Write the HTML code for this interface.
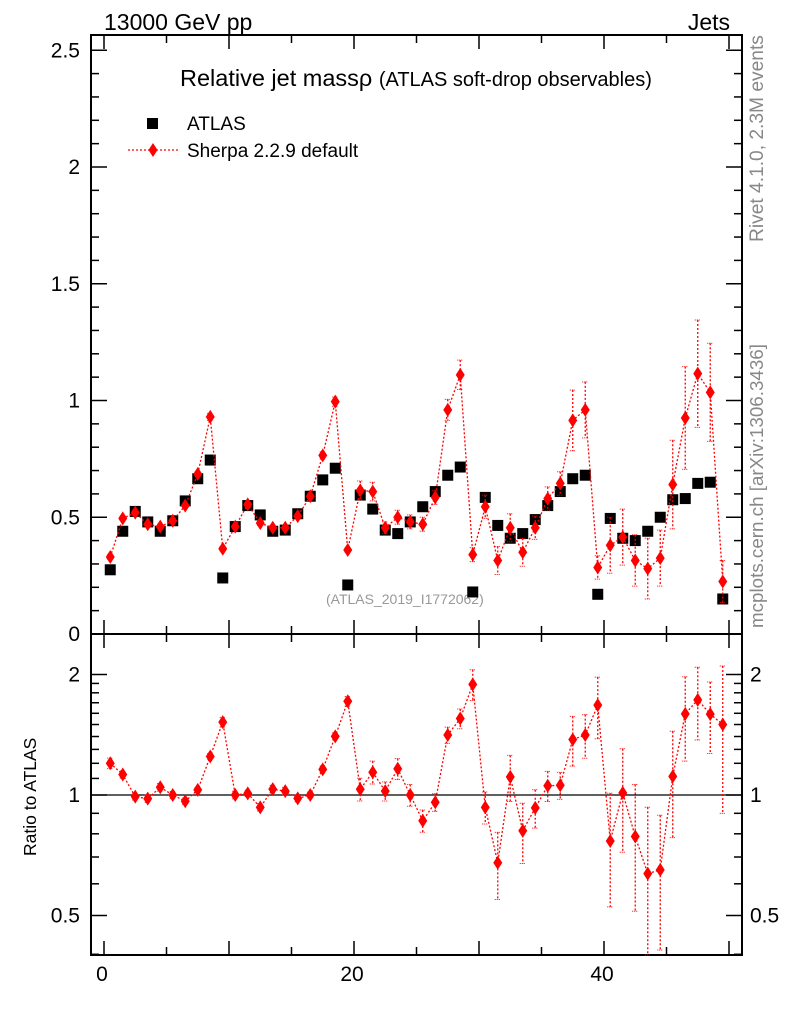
<!DOCTYPE html>
<html><head><meta charset="utf-8"><style>
html,body{margin:0;padding:0;background:#fff}
svg{display:block;font-family:"Liberation Sans",sans-serif}
</style></head><body>
<svg id="c" width="786" height="1024" viewBox="0 0 786 1024">
<text x="104" y="30" font-size="23">13000 GeV pp</text>
<text x="730" y="30" font-size="23" text-anchor="end">Jets</text>
<text x="180" y="86" font-size="23.5">Relative jet massρ <tspan font-size="20">(ATLAS soft-drop observables)</tspan></text>
<text x="326" y="604" font-size="14" fill="#999">(ATLAS_2019_I1772062)</text>
<text transform="translate(763,242) rotate(-90)" font-size="19.2" fill="#888">Rivet 4.1.0,  2.3M events</text>
<text transform="translate(763,628) rotate(-90)" font-size="18.8" fill="#888">mcplots.cern.ch [arXiv:1306.3436]</text>
<text transform="translate(36,856) rotate(-90)" font-size="17.5">Ratio to ATLAS</text>
<g>
<rect x="147" y="118" width="11" height="11" fill="#000"/>
<text x="187" y="130" font-size="19">ATLAS</text>
<line x1="128" y1="150" x2="178" y2="150" stroke="red" stroke-dasharray="2,2" stroke-width="1.3"/>
<polygon points="153,143 157.5,150 153,157 148.5,150" fill="red"/>
<text x="187" y="157" font-size="19">Sherpa 2.2.9 default</text>
</g>
<g id="main"></g>
<g id="ratio"></g>
</svg>
<script>
const atlasVals=[0.275,0.44,0.525,0.48,0.44,0.485,0.57,0.665,0.745,0.24,
0.46,0.55,0.51,0.44,0.445,0.515,0.59,0.66,0.71,0.21,
0.595,0.535,0.445,0.43,0.48,0.545,0.61,0.68,0.715,0.18,
0.585,0.465,0.41,0.43,0.49,0.55,0.61,0.665,0.68,0.17,
0.495,0.41,0.40,0.44,0.50,0.575,0.58,0.645,0.65,0.15];
const sherpaVals=[0.33,0.495,0.52,0.47,0.46,0.485,0.55,0.685,0.93,0.365,
0.46,0.555,0.475,0.455,0.455,0.505,0.59,0.765,0.995,0.36,
0.615,0.61,0.455,0.5,0.48,0.47,0.585,0.96,1.11,0.34,
0.545,0.315,0.455,0.35,0.455,0.58,0.645,0.915,0.96,0.285,
0.38,0.415,0.315,0.28,0.325,0.64,0.925,1.115,1.035,0.225];
const sherpaErrs=[0.01,0.01,0.01,0.01,0.01,0.01,0.01,0.01,0.015,0.01,
0.01,0.01,0.01,0.01,0.01,0.01,0.01,0.015,0.02,0.01,
0.04,0.04,0.025,0.03,0.03,0.03,0.03,0.045,0.063,0.03,
0.05,0.06,0.06,0.06,0.05,0.05,0.05,0.13,0.12,0.05,
0.12,0.12,0.11,0.13,0.12,0.19,0.22,0.23,0.21,0.09];
const xTicks=[0,20,40];
const mainTicks=[0,0.5,1,1.5,2,2.5];
const ratioTicks=[0.5,1,2];

const NS="http://www.w3.org/2000/svg";
const L=91,R=742,T=35,MB=634,RB=955;
const X=v=>104+(v)*12.5;
const Y=v=>634-v*233.5;
const RY=v=>795-Math.log2(v)*120.5;
function el(tag,attrs,parent){const e=document.createElementNS(NS,tag);for(const k in attrs)e.setAttribute(k,attrs[k]);parent.appendChild(e);return e;}
const main=document.getElementById('main'),ratio=document.getElementById('ratio');

let f=el('rect',{x:L,y:T,width:R-L,height:MB-T,fill:'none',stroke:'#000','stroke-width':2},main);


f=el('rect',{x:L,y:MB,width:R-L,height:RB-MB,fill:'none',stroke:'#000','stroke-width':2},ratio);



for(let v=0;v<=50;v++){
  const maj=v%10===0, mid=v%5===0;
  if(!mid) continue;
  const len=maj?14:8;
  [[MB,-1],[MB,1],[RB,-1],[T,1]].forEach(([y0,d])=>{
    const t=el('line',{x1:X(v),x2:X(v),y1:y0,y2:y0+d*len,stroke:'#000','stroke-width':1.5},main);
    
    
  });
}
xTicks.forEach(v=>{
  const t=el('text',{x:X(v)-2,y:981,'font-size':21,'text-anchor':'middle'},ratio);t.textContent=v;
  
  
});
for(let i=0;i<=25;i++){const v=i/10;const maj=i%5===0;const len=maj?16:8;
  [[L,1],[R,-1]].forEach(([x0,d])=>{
    const t=el('line',{x1:x0,x2:x0+d*len,y1:Y(v),y2:Y(v),stroke:'#000','stroke-width':1.5},main);
    
    
  });
}
mainTicks.forEach(v=>{
  const t=el('text',{x:80,y:Y(v)+7,'font-size':21,'text-anchor':'end'},main);t.textContent=v;
  
  
});
[0.4,0.5,0.6,0.7,0.8,0.9,1,1.1,1.2,1.3,1.4,1.5,1.6,1.7,1.8,1.9,2].forEach(v=>{
  const maj=ratioTicks.includes(v);const len=maj?16:8;
  [[L,1],[R,-1]].forEach(([x0,d])=>{
    const t=el('line',{x1:x0,x2:x0+d*len,y1:RY(v),y2:RY(v),stroke:'#000','stroke-width':1.5},ratio);
    
    
  });
});
ratioTicks.forEach(v=>{
  let t=el('text',{x:80,y:RY(v)+7,'font-size':21,'text-anchor':'end'},ratio);t.textContent=v;
  
  
  t=el('text',{x:750,y:RY(v)+7,'font-size':21},ratio);t.textContent=v;
  
  
});
let ref=el('line',{x1:L,x2:R,y1:RY(1),y2:RY(1),stroke:'#000','stroke-width':1.2},ratio);



function series(g,vals,errs,yf,clipTop,clipBot,name){
  let pts=vals.map((v,i)=>X(i+0.5)+','+yf(v)).join(' ');
  const pl=el('polyline',{points:pts,fill:'none',stroke:'red','stroke-width':1.3,'stroke-dasharray':'2,2'},g);
  
  
  vals.forEach((v,i)=>{
    const x=X(i+0.5),y=yf(v);
    let y1=Math.max(clipTop,yf(v+errs[i])),y2=Math.min(clipBot,yf(Math.max(v-errs[i],0.01)));
    const e=el('line',{x1:x,x2:x,y1:y1,y2:y2,stroke:'red','stroke-width':1.3,'stroke-dasharray':'2,2'},g);
    
    
    [y1,y2].forEach(yy=>{const c=el('line',{x1:x-3,x2:x+3,y1:yy,y2:yy,stroke:'red','stroke-width':1,'stroke-dasharray':'1,1'},g);
      
      });
    const d=el('polygon',{points:`${x},${y-7} ${x+4.5},${y} ${x},${y+7} ${x-4.5},${y}`,fill:'red'},g);
    
    
  });
}
atlasVals.forEach((v,i)=>{
  const r=el('rect',{x:X(i+0.5)-5.5,y:Y(v)-5.5,width:11,height:11,fill:'#000'},main);
  
  
});
series(main,sherpaVals,sherpaErrs,Y,T,MB,'sherpa');
const ratioVals=sherpaVals.map((v,i)=>v/atlasVals[i]);
const ratioErrs=sherpaErrs.map((e,i)=>e/atlasVals[i]);
series(ratio,ratioVals,ratioErrs,RY,MB,RB,'sherpa-ratio');
</script>
</body></html>
